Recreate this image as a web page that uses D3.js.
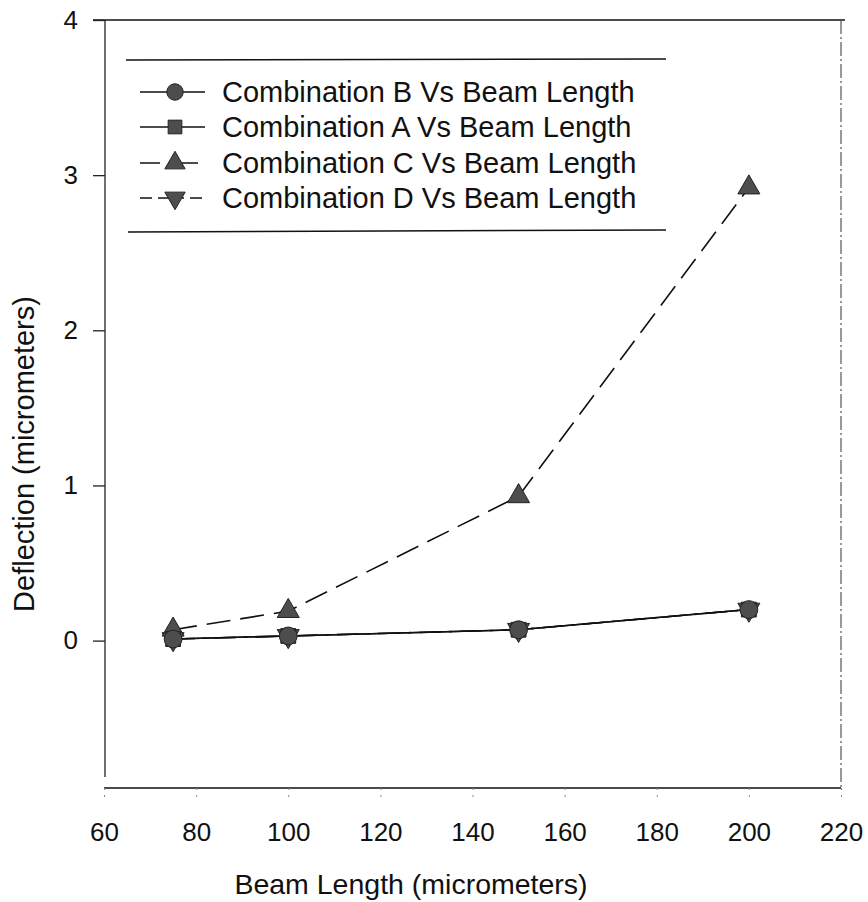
<!DOCTYPE html>
<html>
<head>
<meta charset="utf-8">
<script src="https://cdn.jsdelivr.net/npm/d3@7"></script>
<style>
  body { margin: 0; background: #fff; }
  text { font-family: "Liberation Sans", Arial, sans-serif; fill: #111; }
</style>
</head>
<body>
<div id="chart"></div>
<script>
// beam lengths (micrometers)
const beamLength = [75, 100, 150, 200];
// deflection (micrometers) per combination
const combB = [0.01, 0.03, 0.07, 0.20];
const combA = [0.01, 0.03, 0.07, 0.20];
const combC = [0.07, 0.19, 0.93, 2.92];
const combD = [0.01, 0.03, 0.07, 0.20];

const xTicks = [60, 80, 100, 120, 140, 160, 180, 200, 220];
const yTicks = [0, 1, 2, 3, 4];
const legendLabels = [
  'Combination B Vs Beam Length',
  'Combination A Vs Beam Length',
  'Combination C Vs Beam Length',
  'Combination D Vs Beam Length'
];

const width = 868, height = 902;
const fill = '#4d4d4d';

const svg = d3.select('#chart')
  .append('svg')
  .attr('width', width)
  .attr('height', height);

const xScale = d3.scaleLinear().domain([60, 220]).range([104, 841]);
const yScale = d3.scaleLinear().domain([-0.95, 4]).range([788, 20]);

// frame lines
svg.append('line')
  .attr('x1', 93).attr('x2', 845)
  .attr('y1', yScale(4)).attr('y2', yScale(4))
  .attr('stroke', '#111').attr('stroke-width', 1.6);
svg.append('line')
  .attr('x1', 105).attr('x2', 105)
  .attr('y1', yScale(4)).attr('y2', 777)
  .attr('stroke', '#222').attr('stroke-width', 1.3);
svg.append('line')
  .attr('x1', xScale(220)).attr('x2', xScale(220))
  .attr('y1', yScale(4)).attr('y2', 790)
  .attr('stroke', '#555').attr('stroke-width', 1.2)
  .attr('stroke-dasharray', '14 3 2 3');
svg.append('line')
  .attr('x1', xScale(60)).attr('x2', xScale(220))
  .attr('y1', 788).attr('y2', 788)
  .attr('stroke', '#111').attr('stroke-width', 1.6);

// y axis
const yAxis = svg.append('g')
  .attr('transform', 'translate(105,0)')
  .call(d3.axisLeft(yScale).tickValues(yTicks).tickSize(12).tickPadding(15).tickFormat(d3.format('d')));
yAxis.select('.domain').remove();
yAxis.selectAll('line').attr('stroke', '#222').attr('stroke-width', 1.3);
yAxis.selectAll('text').style('font-size', '26px').attr('fill', '#111');

// x axis
const xAxis = svg.append('g')
  .attr('transform', 'translate(0,788)')
  .call(d3.axisBottom(xScale).tickValues(xTicks).tickSize(10).tickPadding(25));
xAxis.select('.domain').remove();
xAxis.selectAll('line').attr('stroke', '#888').attr('stroke-width', 1).attr('stroke-dasharray', '2 5');
xAxis.selectAll('text').style('font-size', '26px').attr('fill', '#111');

// axis titles
svg.append('text')
  .attr('x', 411).attr('y', 894)
  .attr('text-anchor', 'middle')
  .style('font-size', '28.5px')
  .text('Beam Length (micrometers)');
svg.append('text')
  .attr('transform', 'translate(34,454) rotate(-90)')
  .attr('text-anchor', 'middle')
  .style('font-size', '29px')
  .text('Deflection (micrometers)');

const series = [
  { values: combB, symbol: d3.symbolCircle, size: 250, dash: null, rot: 0 },
  { values: combA, symbol: d3.symbolSquare, size: 220, dash: null, rot: 0 },
  { values: combC, symbol: d3.symbolTriangle, size: 210, dash: '24 10', rot: 0 },
  { values: combD, symbol: d3.symbolTriangle, size: 210, dash: '22 8 3 8', rot: 180 }
];

const line = d3.line()
  .x(d => xScale(d[0]))
  .y(d => yScale(d[1]));

// lines drawn first, markers on top
series.slice().reverse().forEach(s => {
  const pts = beamLength.map((x, i) => [x, s.values[i]]);
  svg.append('path')
    .datum(pts)
    .attr('fill', 'none')
    .attr('stroke', '#111')
    .attr('stroke-width', 1.6)
    .attr('stroke-dasharray', s.dash)
    .attr('d', line);
});

series.slice().reverse().forEach(s => {
  svg.selectAll(null)
    .data(beamLength.map((x, i) => [x, s.values[i]]))
    .enter()
    .append('path')
    .attr('d', d3.symbol().type(s.symbol).size(s.size))
    .attr('transform', d => `translate(${xScale(d[0])},${yScale(d[1])}) rotate(${s.rot})`)
    .attr('fill', fill)
    .attr('stroke', '#222')
    .attr('stroke-width', 1);
});

// legend
svg.append('line')
  .attr('x1', 126).attr('x2', 666).attr('y1', 60).attr('y2', 59)
  .attr('stroke', '#111').attr('stroke-width', 1.5);
svg.append('line')
  .attr('x1', 128).attr('x2', 666).attr('y1', 232).attr('y2', 230)
  .attr('stroke', '#111').attr('stroke-width', 1.5);

const legendY = [92, 127, 163, 198];
const legend = svg.selectAll('.legendItem')
  .data(series)
  .enter()
  .append('g')
  .attr('class', 'legendItem')
  .attr('transform', (d, i) => `translate(0,${legendY[i]})`);
legend.append('line')
  .attr('x1', 140).attr('x2', 205)
  .attr('y1', 0).attr('y2', 0)
  .attr('stroke', '#111').attr('stroke-width', 1.6)
  .attr('stroke-dasharray', d => d.dash ? (d.rot ? '12 6 18 6 2 6' : '20 8 2 8') : null);
legend.append('path')
  .attr('d', d => d3.symbol().type(d.symbol).size(d.size * 0.85)())
  .attr('transform', d => `translate(175,0) rotate(${d.rot})`)
  .attr('fill', fill)
  .attr('stroke', '#222')
  .attr('stroke-width', 1);
legend.append('text')
  .attr('x', 222)
  .attr('dy', '0.36em')
  .style('font-size', '29px')
  .text((d, i) => legendLabels[i]);
</script>
</body>
</html>
